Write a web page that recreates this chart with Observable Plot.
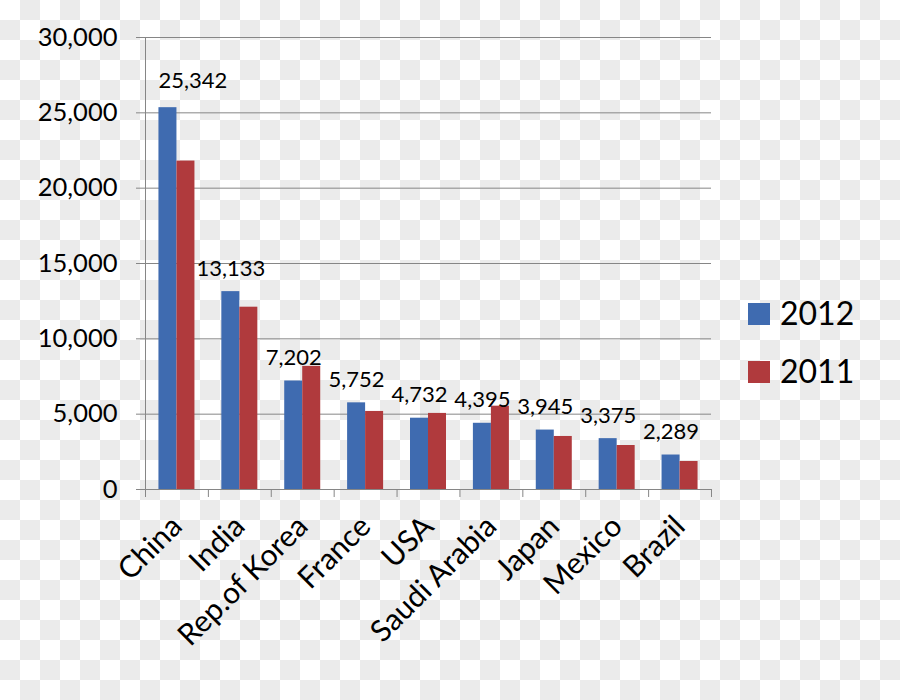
<!DOCTYPE html>
<html>
<head>
<meta charset="utf-8">
<script src="https://cdn.jsdelivr.net/npm/d3@7"></script>
<script src="https://cdn.jsdelivr.net/npm/@observablehq/plot@0.6"></script>
<style>
  html, body { margin: 0; padding: 0; }
  body {
    width: 900px; height: 700px; overflow: hidden;
    background-color: #fff;
    background-image: conic-gradient(#ebebeb 0deg 90deg, #ffffff 90deg 180deg, #ebebeb 180deg 270deg, #ffffff 270deg 360deg);
    background-size: 40px 40px;
    background-position: 0 0;
    font-family: Lato, sans-serif;
  }
  #chart { position: relative; width: 900px; height: 700px; }
</style>
</head>
<body>
<div id="chart"></div>
<script>
const countries = ["China", "India", "Rep.of Korea", "France", "USA", "Saudi Arabia", "Japan", "Mexico", "Brazil"];
const values2012 = [25342, 13133, 7202, 5752, 4732, 4395, 3945, 3375, 2289];
const values2011 = [21800, 12100, 8170, 5180, 5050, 5530, 3520, 2920, 1860];
const seriesNames = ["2012", "2011"];
const seriesColors = ["#3f6bb0", "#b03a3d"];
const yTicks = [0, 5000, 10000, 15000, 20000, 25000, 30000];

const rows2012 = countries.map((c, i) => ({country: c, value: values2012[i], series: seriesNames[0]}));
const rows2011 = countries.map((c, i) => ({country: c, value: values2011[i], series: seriesNames[1]}));

const W = 900, H = 700;
const mL = 145, mR = 189, mT = 37, mB = 211;
const step = (W - mL - mR) / countries.length;
const barW = 18;
const groupPad = (step - 2 * barW) / 2;
const gridColor = "#868686";
const fmt = d3.format(",");

const plot = Plot.plot({
  width: W, height: H,
  marginLeft: mL, marginRight: mR, marginTop: mT, marginBottom: mB,
  style: {background: "transparent", fontFamily: "Lato, sans-serif", color: "#000"},
  x: {domain: countries, padding: 0, round: false},
  y: {domain: [0, 30000]},
  color: {domain: seriesNames, range: seriesColors},
  marks: [
    Plot.gridY(yTicks, {stroke: gridColor, strokeOpacity: 1, strokeWidth: 1}),
    Plot.axisY(yTicks, {tickFormat: fmt, tickSize: 9, tickPadding: 19, fontSize: 25.5, stroke: gridColor, label: null}),
    Plot.ruleX([countries[0]], {x: d => d, dx: -step / 2, y1: 0, y2: 30000, stroke: gridColor}),
    Plot.ruleX(countries, {x: d => d, dx: -step / 2, y1: 0, y2: 0, insetBottom: -8, stroke: gridColor}),
    Plot.ruleX([countries[countries.length - 1]], {x: d => d, dx: step / 2, y1: 0, y2: 0, insetBottom: -8, stroke: gridColor}),
    Plot.axisX({tickSize: 0, tickPadding: 32, tickRotate: -45, fontSize: 30, label: null, dx: 0}),
    Plot.barY(rows2012, {x: "country", y: "value", fill: seriesColors[0], insetLeft: groupPad, insetRight: step - groupPad - barW}),
    Plot.barY(rows2011, {x: "country", y: "value", fill: seriesColors[1], insetLeft: groupPad + barW, insetRight: groupPad}),
    Plot.text(rows2012.slice(1), {x: "country", y: "value", text: d => fmt(d.value), dx: -barW / 2, dy: -16, lineAnchor: "bottom", fontSize: 22, fill: "#000"}),
    Plot.text(rows2012.slice(0, 1), {x: "country", y: "value", text: d => fmt(d.value), dx: 16, dy: -20, lineAnchor: "bottom", fontSize: 22, fill: "#000"})
  ]
});
document.getElementById("chart").appendChild(plot);

// legend
const svg = d3.select(plot);
const leg = svg.append("g").attr("font-family", "Lato, sans-serif").attr("font-size", 32).attr("text-anchor", "start");
seriesNames.forEach((name, i) => {
  const yTop = 303 + i * 58;
  leg.append("rect").attr("x", 748).attr("y", yTop).attr("width", 22).attr("height", 22).attr("fill", seriesColors[i]);
  leg.append("text").attr("x", 780).attr("y", yTop + 22).attr("fill", "#000").text(name);
});
</script>
</body>
</html>
